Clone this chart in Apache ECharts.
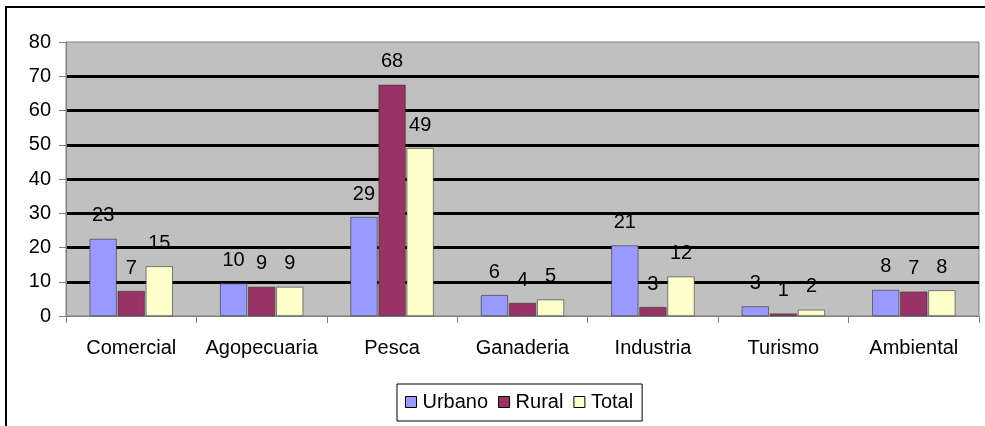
<!DOCTYPE html>
<html>
<head>
<meta charset="utf-8">
<script src="https://cdn.jsdelivr.net/npm/echarts@6/dist/echarts.min.js"></script>
<style>
  html, body { margin: 0; padding: 0; background: #fff; }
  #chart { width: 985px; height: 426px; }
</style>
</head>
<body>
<div id="chart"></div>
<script>
// Values
const categories = ["Comercial", "Agopecuaria", "Pesca", "Ganaderia", "Industria", "Turismo", "Ambiental"];
const urbano = [22.5, 9.5, 28.9, 6.1, 20.6, 2.8, 7.6];
const rural = [7.3, 8.5, 67.5, 3.8, 2.6, 0.7, 7.1];
const total = [14.5, 8.5, 49.0, 4.8, 11.5, 1.8, 7.5];
const yTicks = [0, 10, 20, 30, 40, 50, 60, 70, 80];

const font = "Liberation Sans, Arial, sans-serif";

const chart = echarts.init(document.getElementById("chart"));

const barLabel = {
  show: true,
  position: "top",
  distance: 13,
  color: "#000",
  fontFamily: font,
  fontSize: 20,
  formatter: (p) => Math.round(p.value),
};

const makeSeries = (name, data, color) => ({
  name,
  type: "bar",
  data,
  barWidth: 27,
  barGap: "4%",
  itemStyle: { color, borderColor: "#333", borderWidth: 0.6 },
  label: barLabel,
});

const option = {
  animation: false,
  backgroundColor: "#fff",
  textStyle: { fontFamily: font },
  graphic: [
    {
      type: "rect",
      shape: { x: 6, y: 7, width: 990, height: 440 },
      style: { fill: "none", stroke: "#000", lineWidth: 2 },
      silent: true,
    },
  ],
  grid: {
    left: 66,
    right: 6,
    top: 42,
    bottom: 110,
    show: true,
    backgroundColor: "#C0C0C0",
    borderColor: "#808080",
    borderWidth: 1,
  },
  legend: {
    data: ["Urbano", "Rural", "Total"],
    left: 397,
    top: 384,
    orient: "horizontal",
    padding: [8, 9, 9, 8],
    borderColor: "#000",
    borderWidth: 1,
    itemWidth: 11,
    itemHeight: 11,
    itemGap: 10,
    icon: "rect",
    itemStyle: { borderColor: "#000", borderWidth: 1 },
    textStyle: { color: "#000", fontFamily: font, fontSize: 20, padding: [0, 0, 0, 1] },
  },
  xAxis: {
    type: "category",
    data: categories,
    axisLine: { lineStyle: { color: "#808080", width: 1 } },
    axisTick: { show: true, alignWithLabel: false, length: 7, lineStyle: { color: "#808080" } },
    axisLabel: { interval: 0, color: "#000", fontFamily: font, fontSize: 20, margin: 22 },
    splitLine: { show: false },
  },
  yAxis: {
    type: "value",
    min: yTicks[0],
    max: yTicks[yTicks.length - 1],
    interval: 10,
    axisLine: { show: true, lineStyle: { color: "#808080", width: 1 } },
    axisTick: { show: true, length: 7, lineStyle: { color: "#808080" } },
    axisLabel: { color: "#000", fontFamily: font, fontSize: 20, margin: 15 },
    splitLine: {
      show: true,
      showMinLine: false,
      showMaxLine: false,
      lineStyle: { color: "#000", width: 3 },
    },
  },
  series: [
    makeSeries("Urbano", urbano, "#9999FF"),
    makeSeries("Rural", rural, "#993366"),
    makeSeries("Total", total, "#FFFFCC"),
  ],
};

chart.setOption(option);
</script>
</body>
</html>
